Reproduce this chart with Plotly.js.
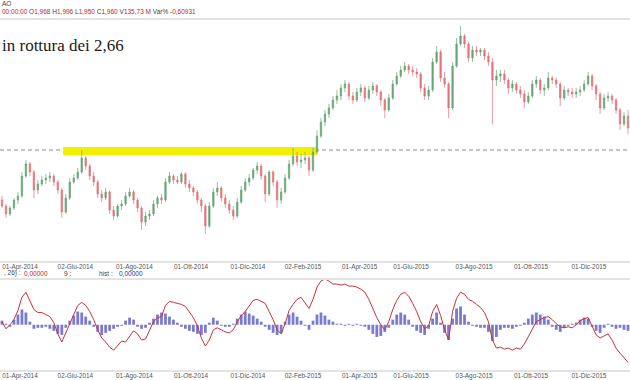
<!DOCTYPE html>
<html><head><meta charset="utf-8">
<script src="https://cdn.plot.ly/plotly-3.0.1.min.js"></script>
<style>html,body{margin:0;padding:0;background:#fff}#chart{width:630px;height:380px}</style>
</head><body><div id="chart"></div>
<script>
// Price series (one candle per ~3 sessions)
const openP = [2.295,2.251,2.193,2.237,2.295,2.324,2.470,2.558,2.499,2.368,
2.412,2.441,2.456,2.470,2.426,2.368,2.207,2.310,2.426,2.456,
2.499,2.602,2.543,2.470,2.426,2.339,2.310,2.353,2.222,2.178,
2.251,2.266,2.324,2.353,2.295,2.237,2.134,2.178,2.193,2.266,
2.310,2.295,2.426,2.470,2.441,2.426,2.485,2.412,2.383,2.353,
2.295,2.251,2.105,2.251,2.353,2.383,2.310,2.266,2.222,2.178,
2.280,2.368,2.426,2.456,2.514,2.543,2.470,2.339,2.499,2.426,
2.295,2.353,2.456,2.558,2.616,2.572,2.587,2.602,2.514,2.645,
2.762,2.864,2.923,2.967,3.025,3.054,3.113,3.142,3.054,3.025,
3.083,3.113,3.040,3.098,3.127,3.083,3.025,2.952,3.040,3.142,
3.200,3.244,3.273,3.244,3.229,3.215,3.113,3.054,3.098,3.302,
3.375,3.186,3.142,2.967,3.273,3.434,3.492,3.434,3.332,3.390,
3.375,3.390,3.346,3.302,3.171,3.200,3.215,3.171,3.113,3.142,
3.098,3.069,3.010,3.054,3.142,3.171,3.098,3.113,3.186,3.171,
3.142,3.040,3.098,3.083,3.069,3.083,3.098,3.142,3.200,3.127,
3.069,2.967,3.040,3.054,3.025,2.952,2.850,2.908];
const highP = [2.324,2.266,2.251,2.310,2.353,2.499,2.587,2.572,2.514,2.441,
2.470,2.485,2.499,2.485,2.441,2.383,2.339,2.456,2.485,2.529,
2.660,2.616,2.558,2.499,2.441,2.368,2.383,2.368,2.251,2.266,
2.295,2.353,2.383,2.368,2.310,2.251,2.207,2.222,2.295,2.324,
2.339,2.456,2.499,2.485,2.470,2.499,2.499,2.441,2.397,2.368,
2.310,2.266,2.280,2.383,2.426,2.397,2.339,2.295,2.251,2.310,
2.397,2.456,2.485,2.529,2.572,2.558,2.485,2.514,2.514,2.441,
2.383,2.485,2.587,2.675,2.645,2.631,2.645,2.616,2.675,2.806,
2.894,2.952,2.996,3.054,3.098,3.142,3.171,3.156,3.083,3.113,
3.142,3.127,3.127,3.156,3.142,3.098,3.040,3.069,3.171,3.229,
3.273,3.302,3.288,3.273,3.259,3.229,3.142,3.127,3.332,3.419,
3.390,3.229,3.156,3.302,3.478,3.565,3.507,3.448,3.419,3.419,
3.405,3.405,3.375,3.332,3.244,3.244,3.244,3.186,3.171,3.156,
3.127,3.098,3.083,3.171,3.200,3.186,3.142,3.229,3.200,3.186,
3.156,3.127,3.113,3.113,3.113,3.127,3.171,3.229,3.215,3.142,
3.083,3.069,3.083,3.069,3.040,2.967,2.937,2.952];
const lowP = [2.237,2.164,2.178,2.222,2.266,2.310,2.456,2.470,2.310,2.339,
2.397,2.412,2.426,2.397,2.339,2.164,2.193,2.295,2.412,2.441,
2.485,2.514,2.441,2.397,2.310,2.280,2.295,2.193,2.149,2.164,
2.222,2.251,2.310,2.266,2.207,2.076,2.105,2.149,2.178,2.237,
2.266,2.280,2.412,2.412,2.412,2.412,2.383,2.353,2.324,2.266,
2.207,2.047,2.091,2.237,2.324,2.280,2.237,2.193,2.149,2.164,
2.266,2.353,2.397,2.441,2.485,2.441,2.280,2.324,2.397,2.237,
2.266,2.339,2.441,2.543,2.543,2.529,2.558,2.470,2.499,2.631,
2.748,2.835,2.894,2.952,2.996,3.025,3.083,3.025,2.996,3.010,
3.054,3.010,3.025,3.069,3.054,2.981,2.894,2.937,3.025,3.127,
3.186,3.229,3.215,3.200,3.186,3.083,3.025,3.025,3.083,3.288,
3.156,3.113,2.894,2.952,3.259,3.419,3.405,3.302,3.302,3.346,
3.346,3.317,3.273,2.850,3.127,3.156,3.142,3.069,3.083,3.069,
3.040,2.967,2.996,3.040,3.113,3.069,3.054,3.098,3.142,3.113,
2.981,3.025,3.054,3.040,3.040,3.054,3.083,3.127,3.098,3.025,
2.923,2.952,3.010,2.996,2.923,2.806,2.835,2.777];
const closeP = [2.251,2.193,2.237,2.295,2.324,2.470,2.558,2.499,2.368,2.412,
2.441,2.456,2.470,2.426,2.368,2.207,2.310,2.426,2.456,2.499,
2.602,2.543,2.470,2.426,2.339,2.310,2.353,2.222,2.178,2.251,
2.266,2.324,2.353,2.295,2.237,2.134,2.178,2.193,2.266,2.310,
2.295,2.426,2.470,2.441,2.426,2.485,2.412,2.383,2.353,2.295,
2.251,2.105,2.251,2.353,2.383,2.310,2.266,2.222,2.178,2.280,
2.368,2.426,2.456,2.514,2.543,2.470,2.339,2.499,2.426,2.295,
2.353,2.456,2.558,2.616,2.572,2.587,2.602,2.514,2.645,2.762,
2.864,2.923,2.967,3.025,3.054,3.113,3.142,3.054,3.025,3.083,
3.113,3.040,3.098,3.127,3.083,3.025,2.952,3.040,3.142,3.200,
3.244,3.273,3.244,3.229,3.215,3.113,3.054,3.098,3.302,3.375,
3.186,3.142,2.967,3.273,3.434,3.492,3.434,3.332,3.390,3.375,
3.390,3.346,3.302,3.171,3.200,3.215,3.171,3.113,3.142,3.098,
3.069,3.010,3.054,3.142,3.171,3.098,3.113,3.186,3.171,3.142,
3.040,3.098,3.083,3.069,3.083,3.098,3.142,3.200,3.127,3.069,
2.967,3.040,3.054,3.025,2.952,2.850,2.908,2.821];

// MACD line and histogram
const macdLine = [0.006,-0.008,0,0.010,0.028,0.054,0.064,0.046,0.030,0.024,
0.024,0.020,0.016,0.004,-0.018,-0.034,-0.016,0.004,0.022,0.038,
0.044,0.038,0.026,0.010,-0.010,-0.026,-0.034,-0.044,-0.050,-0.040,
-0.032,-0.034,-0.022,-0.012,-0.018,-0.030,-0.028,-0.010,0.006,0.014,
0.016,0.038,0.046,0.044,0.042,0.040,0.036,0.026,0.014,-0.002,
-0.026,-0.042,-0.030,-0.010,-0.006,-0.010,-0.014,-0.016,-0.010,0.006,
0.018,0.026,0.038,0.048,0.050,0.046,0.042,0.026,0.010,-0.010,
-0.018,0.002,0.028,0.040,0.050,0.054,0.044,0.032,0.050,0.074,
0.086,0.090,0.086,0.080,0.080,0.078,0.080,0.076,0.076,0.074,
0.070,0.064,0.050,0.030,0.014,0,-0.010,0.006,0.030,0.048,
0.060,0.064,0.056,0.042,0.026,0.006,-0.008,-0.002,0.026,0.040,
0.018,-0.010,-0.030,0.026,0.052,0.064,0.060,0.050,0.046,0.040,
0.034,0.024,0.006,-0.030,-0.046,-0.044,-0.048,-0.046,-0.050,-0.046,
-0.048,-0.038,-0.024,-0.008,0.006,0.010,0.014,0.016,0.010,0.002,
-0.004,-0.006,-0.004,-0.006,0,0.008,0.012,0.014,-0.002,-0.020,
-0.026,-0.022,-0.018,-0.030,-0.046,-0.056,-0.066,-0.074];
const macdHist = [0.008,0.002,-0.004,0.010,0.020,0.030,0.024,0.006,-0.008,-0.006,
-0.006,-0.004,-0.008,-0.012,-0.018,-0.020,-0.006,0.008,0.018,0.026,
0.024,0.016,0.008,-0.004,-0.014,-0.020,-0.016,-0.012,-0.008,-0.004,
-0.002,0.008,0.014,0.010,-0.004,-0.008,-0.006,0.004,0.012,0.020,
0.024,0.022,0.016,0.010,0.004,-0.004,-0.008,-0.012,-0.014,-0.018,
-0.020,-0.016,0.004,0.014,0.008,-0.002,-0.004,-0.004,0.002,0.012,
0.020,0.026,0.022,0.018,0.012,0.006,-0.004,-0.010,-0.016,-0.020,
-0.016,0.006,0.020,0.024,0.016,0.008,-0.002,-0.010,0.008,0.020,
0.024,0.018,0.010,0.006,0.002,0.002,-0.002,0.002,-0.002,0.002,
-0.002,-0.004,-0.010,-0.018,-0.024,-0.022,-0.014,-0.006,0.010,0.020,
0.024,0.020,0.010,-0.004,-0.012,-0.016,-0.020,-0.008,0.012,0.024,
0.004,-0.016,-0.030,0.012,0.032,0.036,0.020,0.006,-0.002,-0.004,
-0.006,-0.006,-0.014,-0.032,-0.024,-0.010,-0.006,-0.006,-0.008,-0.004,
-0.002,0.004,0.012,0.020,0.024,0.020,0.016,0.010,-0.004,-0.010,
-0.014,-0.006,-0.002,0.002,0.004,0.010,0.014,0.012,-0.004,-0.012,
-0.016,-0.006,0.002,-0.004,-0.008,-0.006,-0.010,-0.012];

// Date tick labels and the candle index they sit at
const tickLabels = ["01-Apr-2014","02-Giu-2014","01-Ago-2014","01-Ott-2014","01-Dic-2014","02-Feb-2015","01-Apr-2015","01-Giu-2015","03-Ago-2015","01-Ott-2015","01-Dic-2015"];
const tickIdx = [4.5,18.4,33.2,47.4,61.7,75.5,89.7,102.6,118.4,132.7,147.2];
const breakLevel = 2.66;

const idx = closeP.map((_, i) => i);
const N = closeP.length;
const H = 380;
const py = p => 1 - p / H;   // pixel row -> paper fraction

const green = '#66a676', red = '#e2747a';
const traces = [
  {type:'candlestick', x: idx, open: openP, high: highP, low: lowP, close: closeP,
   xaxis:'x', yaxis:'y', whiskerwidth:0,
   increasing:{line:{color:green, width:0.7}, fillcolor:green},
   decreasing:{line:{color:red, width:0.7}, fillcolor:red},
   hoverinfo:'skip', showlegend:false},
  {type:'bar', x: idx, y: macdHist, xaxis:'x2', yaxis:'y2', width:0.7,
   marker:{color:'#7a7ad0', line:{width:0}}, hoverinfo:'skip', showlegend:false},
  {type:'scatter', mode:'lines', x: idx, y: macdLine, xaxis:'x2', yaxis:'y2',
   line:{color:'#c8333a', width:1}, hoverinfo:'skip', showlegend:false}
];

const tickFont = {family:'Liberation Sans, Arial, sans-serif', size:6.4, color:'#555'};
const axX = {range:[-0.5, N-0.5], showgrid:false, zeroline:false, showline:false, ticks:'',
  tickmode:'array', tickvals: tickIdx, ticktext: tickLabels, tickfont: tickFont,
  rangeslider:{visible:false}, fixedrange:true};
const hline = (yp, c) => ({type:'line', xref:'paper', yref:'paper', x0:0, x1:1, y0:py(yp), y1:py(yp), line:{color:c||'#c8c8c8', width:1}});

const small = {family:'Liberation Sans, Arial, sans-serif', size:6.5, color:'#444'};
const R = s => '<span style="color:#c0282c">' + s + '</span>';

const layout = {
  width:630, height:380, margin:{l:0, r:0, t:0, b:0},
  paper_bgcolor:'#fff', plot_bgcolor:'#fff', showlegend:false, boxgap:0.5,
  xaxis: Object.assign({}, axX, {domain:[0,1], anchor:'y'}),
  yaxis: {domain:[py(262), py(20)], range:[1.8424, 3.609], visible:false, fixedrange:true},
  xaxis2: Object.assign({}, axX, {domain:[0,1], anchor:'y2', matches:'x'}),
  yaxis2: {domain:[py(371), py(280)], range:[-0.091, 0.088], visible:false, fixedrange:true},
  shapes: [
    {type:'rect', xref:'x', yref:'y', x0:15.3, x1:79.0, y0:2.6235, y1:2.682,
     fillcolor:'#f4ee00', line:{width:0}, layer:'below'},
    {type:'line', xref:'paper', yref:'y', x0:0, x1:1, y0:breakLevel, y1:breakLevel,
     line:{color:'#8a8a8a', width:1, dash:'4px,3px'}, layer:'below'},
    hline(19), hline(262), hline(279), hline(371)
  ],
  annotations: [
    {xref:'paper', yref:'paper', x:0, y:py(3), xanchor:'left', yanchor:'middle', showarrow:false,
     text:'AO', font:small},
    {xref:'paper', yref:'paper', x:0, y:py(12), xanchor:'left', yanchor:'middle', showarrow:false,
     text: R('00:00:00') + ' O' + R('1,968') + ' H' + R('1,996') + ' L' + R('1,950') + ' C' + R('1,960') + ' V' + R('135,73 M') + ' Var% ' + R('-0,60931'),
     font:small},
    {xref:'paper', yref:'paper', x:0, y:py(45), xanchor:'left', yanchor:'middle', showarrow:false,
     text:'in rottura dei 2,66', font:{family:'Liberation Serif, Times New Roman, serif', size:17, color:'#1a1a1a'}},
    {xref:'paper', yref:'paper', x:2/630, y:py(273), xanchor:'left', yanchor:'middle', showarrow:false,
     text:', 26) :', font:small},
    {xref:'paper', yref:'paper', x:22/630, y:py(273), xanchor:'left', yanchor:'middle', showarrow:false,
     text:'0,00000', font:Object.assign({}, small, {color:'#c0282c'})},
    {xref:'paper', yref:'paper', x:62/630, y:py(273), xanchor:'left', yanchor:'middle', showarrow:false,
     text:'9 :', font:small},
    {xref:'paper', yref:'paper', x:97/630, y:py(273), xanchor:'left', yanchor:'middle', showarrow:false,
     text:'hist :', font:small},
    {xref:'paper', yref:'paper', x:117/630, y:py(273), xanchor:'left', yanchor:'middle', showarrow:false,
     text:'0,00000', font:Object.assign({}, small, {color:'#3030b0'})}
  ]
};

Plotly.newPlot('chart', traces, layout, {staticPlot:true, displayModeBar:false});
</script></body></html>
